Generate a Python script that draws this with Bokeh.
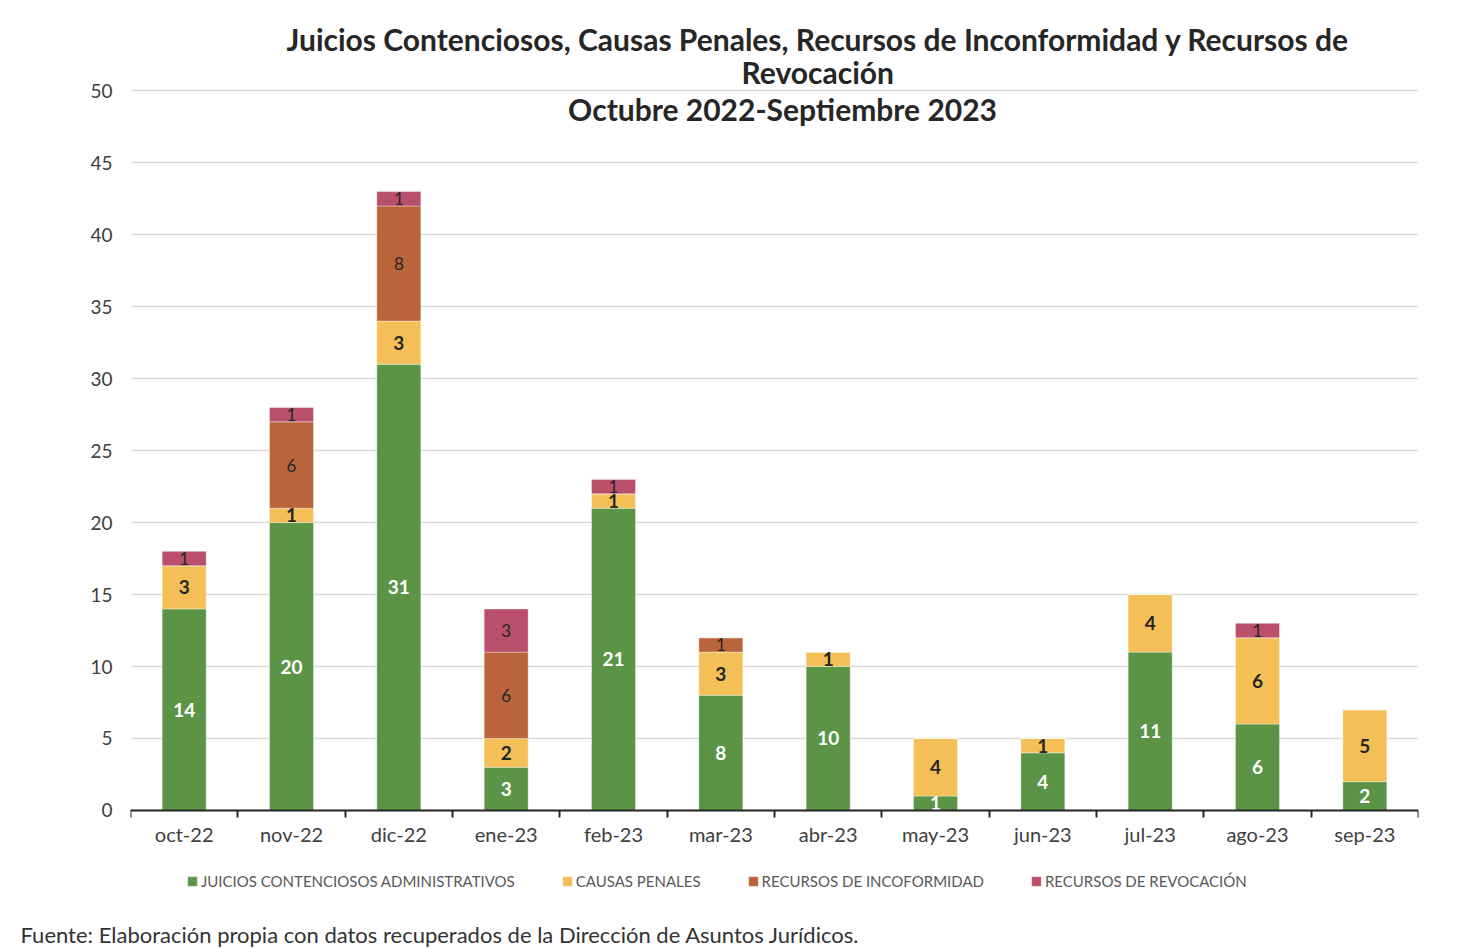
from bokeh.plotting import figure
from bokeh.models import (ColumnDataSource, FixedTicker, Range1d, Label, Legend, Title)
from bokeh.core.properties import value
from bokeh.embed import file_html
from bokeh.resources import INLINE

categories = ["oct-22", "nov-22", "dic-22", "ene-23", "feb-23", "mar-23",
              "abr-23", "may-23", "jun-23", "jul-23", "ago-23", "sep-23"]
juicios = [14, 20, 31, 3, 21, 8, 10, 1, 4, 11, 6, 2]
causas = [3, 1, 3, 2, 1, 3, 1, 4, 1, 4, 6, 5]
inconformidad = [0, 6, 8, 6, 0, 1, 0, 0, 0, 0, 0, 0]
revocacion = [1, 1, 1, 3, 1, 0, 0, 0, 0, 0, 1, 0]
series_names = ["JUICIOS CONTENCIOSOS ADMINISTRATIVOS", "CAUSAS PENALES",
                "RECURSOS DE INCOFORMIDAD", "RECURSOS DE REVOCACIÓN"]
y_ticks = [0, 5, 10, 15, 20, 25, 30, 35, 40, 45, 50]
title_lines = ["Juicios Contenciosos, Causas Penales, Recursos de Inconformidad y Recursos de",
               "Revocación", "Octubre 2022-Septiembre 2023"]
source_note = "Fuente: Elaboración propia con datos recuperados de la Dirección de Asuntos Jurídicos."

colors = ["#5B9447", "#F4BF57", "#B9643A", "#B94F6B"]
FONT = "Lato"

n = len(categories)
xs = [i + 0.5 for i in range(n)]
keys = ["juicios", "causas", "inconf", "revoc"]
data = dict(x=xs, juicios=juicios, causas=causas, inconf=inconformidad, revoc=revocacion)
src = ColumnDataSource(data)

p = figure(width=1484, height=950, output_backend="svg", toolbar_location=None,
           x_range=Range1d(0, n), y_range=Range1d(-7.3, 50.3),
           min_border_left=130, min_border_right=66, min_border_top=86,
           min_border_bottom=0)
p.outline_line_color = None
p.background_fill_color = "white"
p.border_fill_color = "white"

renderers = p.vbar_stack(keys, x="x", width=0.41, color=colors, source=src,
                         line_color="white", line_width=0.6, line_alpha=0.6)

# segment labels
lab_x, lab_y, lab_t, lab_c, lab_w, lab_s = [], [], [], [], [], []
series = [juicios, causas, inconformidad, revocacion]
styles = [("white", "bold", "19px"), ("#262626", "bold", "19px"),
          ("#262626", "normal", "17px"), ("#262626", "normal", "17px")]
for i in range(n):
    bottom = 0
    for k, s in enumerate(series):
        v = s[i]
        if v > 0:
            lab_x.append(xs[i])
            lab_y.append(bottom + v / 2)
            lab_t.append(str(v))
            lab_c.append(styles[k][0])
            lab_w.append(styles[k][1])
            lab_s.append(styles[k][2])
        bottom += v
lsrc = ColumnDataSource(dict(x=lab_x, y=lab_y, t=lab_t, c=lab_c, w=lab_w, s=lab_s))
p.text(x="x", y="y", text="t", source=lsrc, text_color="c", text_font_style="w",
       text_font_size="s", text_font=value(FONT), text_align="center",
       text_baseline="middle")

# axes
p.yaxis.ticker = FixedTicker(ticks=y_ticks)
p.yaxis.axis_line_color = None
p.yaxis.major_tick_line_color = None
p.yaxis.minor_tick_line_color = None
p.yaxis.major_tick_out = 0
p.yaxis.major_tick_in = 0
p.yaxis.major_label_standoff = 18
p.yaxis.major_label_text_font = FONT
p.yaxis.major_label_text_font_size = "19px"
p.yaxis.major_label_text_color = "#404040"

p.xaxis.fixed_location = 0
p.xaxis.ticker = FixedTicker(ticks=xs, minor_ticks=list(range(n + 1)))
p.xaxis.major_label_overrides = {x: c for x, c in zip(xs, categories)}
p.xaxis.axis_line_color = "#262626"
p.xaxis.axis_line_width = 2
p.xaxis.major_tick_line_color = None
p.xaxis.major_tick_out = 0
p.xaxis.major_tick_in = 0
p.xaxis.minor_tick_line_color = "#262626"
p.xaxis.minor_tick_line_width = 2
p.xaxis.minor_tick_out = 7
p.xaxis.minor_tick_in = 0
p.xaxis.major_label_standoff = 5
p.xaxis.major_label_text_font = FONT
p.xaxis.major_label_text_font_size = "20px"
p.xaxis.major_label_text_color = "#404040"

p.xgrid.grid_line_color = None
p.ygrid.grid_line_color = "#D9D9D9"
p.ygrid.grid_line_width = 1.6

# legend inside the (extended) frame, below the axis
legend = Legend(items=[(name, [r]) for name, r in zip(series_names, renderers)],
                orientation="horizontal", location=(56, 24),
                label_text_font=FONT, label_text_font_size="15px",
                label_text_color="#595959", glyph_width=12, glyph_height=12,
                label_standoff=3, spacing=46, padding=0, margin=0,
                border_line_color=None, background_fill_alpha=0,
                label_height=20)
p.add_layout(legend, "center")

# source note
p.add_layout(Title(text=source_note, align="left", offset=-110, standoff=6,
                   text_font=FONT, text_font_style="normal",
                   text_font_size="22px", text_color="#333333"), "below")

# title: lines 2 then 1 in the panel above, line 3 inside the frame
p.add_layout(Title(text=title_lines[1], align="left", offset=611, standoff=-6,
                   text_font=FONT, text_font_style="bold",
                   text_font_size="30px", text_color="#262626"), "above")
p.add_layout(Title(text=title_lines[0], align="left", offset=156, standoff=-5,
                   text_font=FONT, text_font_style="bold",
                   text_font_size="30px", text_color="#262626"), "above")
p.add_layout(Label(x=6.075, y=48.75, text=title_lines[2],
                   text_align="center", text_baseline="middle",
                   text_font=FONT, text_font_style="bold",
                   text_font_size="30px", text_color="#262626"))

open("out.html", "w").write(file_html(p, INLINE))
